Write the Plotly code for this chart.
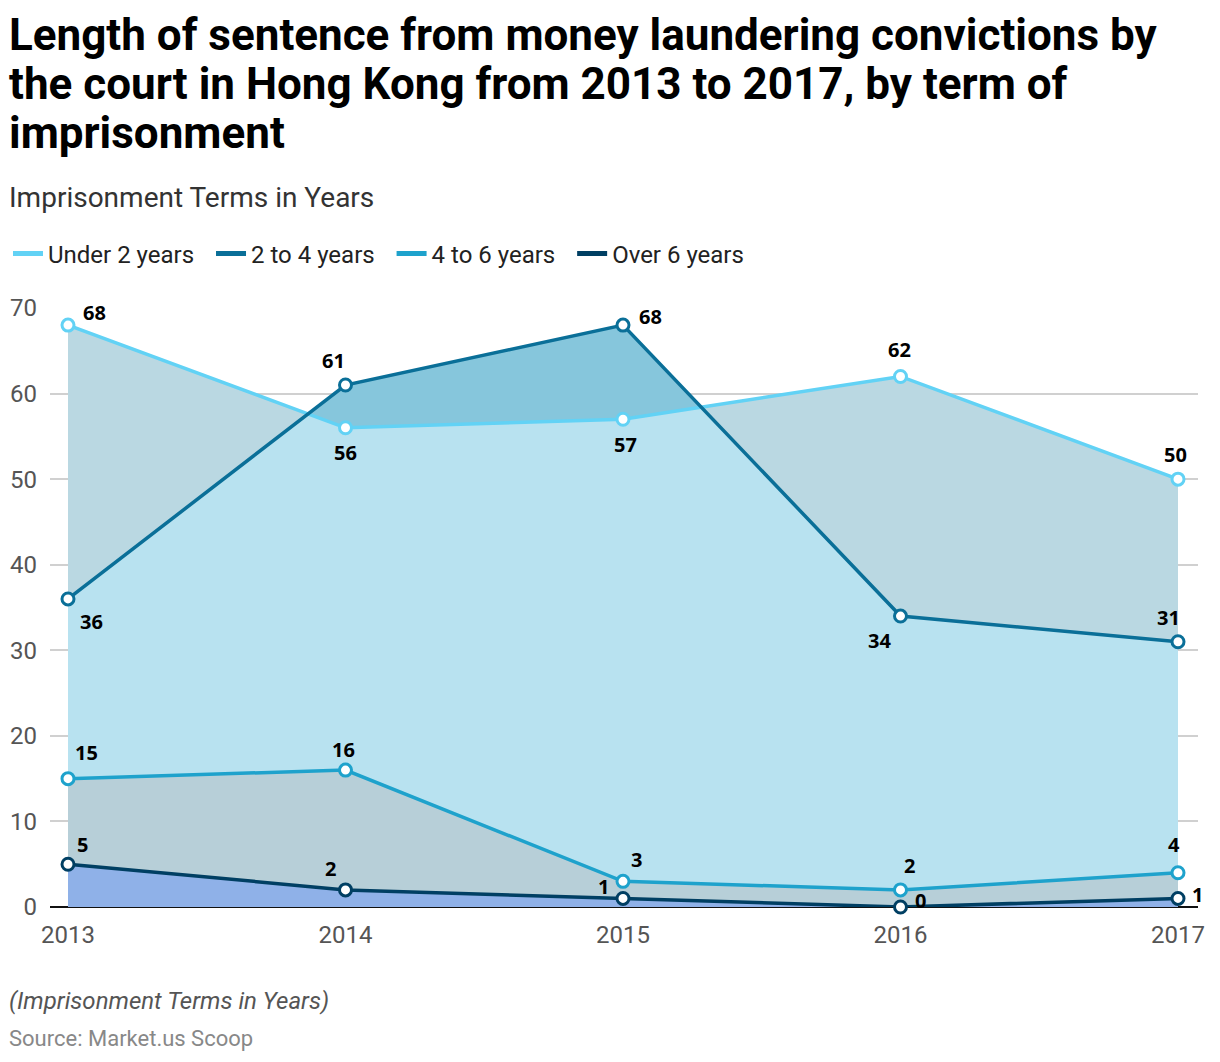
import plotly.graph_objects as go

years = [2013, 2014, 2015, 2016, 2017]
under2 = [68, 56, 57, 62, 50]
two_four = [36, 61, 68, 34, 31]
four_six = [15, 16, 3, 2, 4]
over6 = [5, 2, 1, 0, 1]

series_names = ["Under 2 years", "2 to 4 years", "4 to 6 years", "Over 6 years"]
line_colors = ["#62d2f5", "#0a6f98", "#1ea2cc", "#003f63"]
# label offsets in pixels (dx right, dy down) per series / point
label_dx = [[26, 0, 2, -1, -3], [23, -12, 27, -21, -10], [18, -2, 13, 9, -4], [14, -15, -20, 20, 19]]
label_dy = [[-13, 25, 25, -27, -25], [23, -25, -9, 24, -24], [-26, -21, -22, -24, -28], [-20, -21, -12, -7, -4]]
title_lines = ["Length of sentence from money laundering convictions by",
               "the court in Hong Kong from 2013 to 2017, by term of",
               "imprisonment"]

# merge crossing points of under2 / two_four (derived from data)
xm, um, tm = [], [], []
for i in range(len(years)):
    xm.append(years[i]); um.append(under2[i]); tm.append(two_four[i])
    if i < len(years) - 1:
        d0 = under2[i] - two_four[i]
        d1 = under2[i + 1] - two_four[i + 1]
        if d0 * d1 < 0:
            f = d0 / (d0 - d1)
            xm.append(years[i] + f)
            um.append(under2[i] + f * (under2[i + 1] - under2[i]))
            tm.append(two_four[i] + f * (two_four[i + 1] - two_four[i]))
mx = [max(a, b) for a, b in zip(um, tm)]
mn = [min(a, b) for a, b in zip(um, tm)]

fig = go.Figure()
nolinefill = dict(mode="lines", line=dict(width=0), hoverinfo="skip", showlegend=False)
fig.add_trace(go.Scatter(x=xm, y=um, fill="tozeroy", fillcolor="#bad8e2", **nolinefill))
fig.add_trace(go.Scatter(x=xm, y=mx, fill="tonexty", fillcolor="#86c6dc", **nolinefill))
fig.add_trace(go.Scatter(x=xm, y=mn, fill="tozeroy", fillcolor="#b8e2f0", **nolinefill))
fig.add_trace(go.Scatter(x=years, y=four_six, fill="tozeroy", fillcolor="#b7cfd8", **nolinefill))
fig.add_trace(go.Scatter(x=years, y=over6, fill="tozeroy", fillcolor="#8fb1e8", **nolinefill))

all_vals = [under2, two_four, four_six, over6]
for name, vals, col in zip(series_names, all_vals, line_colors):
    fig.add_trace(go.Scatter(
        x=years, y=vals, name=name, mode="lines+markers", showlegend=False,
        line=dict(color=col, width=3.5),
        marker=dict(size=12, color="white", line=dict(color=col, width=3)),
        cliponaxis=False,
    ))

# data labels
for vals, dxs, dys in zip(all_vals, label_dx, label_dy):
    for xv, yv, dx, dy in zip(years, vals, dxs, dys):
        fig.add_annotation(x=xv, y=yv, xref="x", yref="y", text="<b>%d</b>" % yv, showarrow=False,
                           xshift=dx, yshift=-dy, xanchor="center", yanchor="middle",
                           font=dict(family="Open Sans", size=20, color="#000000"))

# legend-only entries (line symbols)
for name, col in zip(series_names, line_colors):
    fig.add_trace(go.Scatter(x=[None], y=[None], name=name + "\u00a0\u00a0", mode="lines",
                             line=dict(color=col, width=5), showlegend=True))

W, H = 1212, 1054
fig.update_layout(
    width=W, height=H,
    margin=dict(l=42, r=22, t=300, b=155),
    paper_bgcolor="white", plot_bgcolor="white",
    font=dict(family="Roboto", color="#333333"),
    showlegend=True,
    legend=dict(orientation="h", xref="container", yref="container", x=-4 / W, y=1 - 246 / H,
                xanchor="left", yanchor="middle", font=dict(size=24, color="#222222"),
                traceorder="normal", itemwidth=30, tracegroupgap=0),
    xaxis=dict(range=[2013 - 18 / 277.5, 2017 + 20 / 277.5], tickvals=years,
               ticktext=[str(y) for y in years], showgrid=False, zeroline=False,
               tickfont=dict(size=24, color="#555555"), ticks="", showline=False,
               automargin=False, ticklabelstandoff=11),
    yaxis=dict(range=[0, 70], tickvals=[0, 10, 20, 30, 40, 50, 60, 70], showgrid=True,
               gridcolor="#d0d0d0", gridwidth=1.5, zeroline=True, zerolinecolor="#111111",
               zerolinewidth=2, tickfont=dict(size=24, color="#555555"), ticklabelstandoff=12,
               automargin=False),
)

def py(pix):
    return (907 - pix) / 599

for line, cy in zip(title_lines, [35, 84, 133]):
    fig.add_annotation(xref="paper", yref="paper", x=-43 / 1148, y=py(cy), xanchor="left", yanchor="middle",
                       text="<b>" + line + "</b>", showarrow=False, align="left",
                       font=dict(family="Roboto", size=44, color="#000000"))
fig.add_annotation(xref="paper", yref="paper", x=-43 / 1148, y=py(197), xanchor="left", yanchor="middle",
                   text="Imprisonment Terms in Years", showarrow=False, align="left",
                   font=dict(family="Roboto", size=28, color="#333333"))
fig.add_annotation(xref="paper", yref="paper", x=-43 / 1148, y=py(1001), xanchor="left", yanchor="middle",
                   text="<i>(Imprisonment Terms in Years)</i>", showarrow=False, align="left",
                   font=dict(family="Roboto", size=24, color="#555555"))
fig.add_annotation(xref="paper", yref="paper", x=-43 / 1148, y=py(1038), xanchor="left", yanchor="middle",
                   text="Source: Market.us Scoop", showarrow=False, align="left",
                   font=dict(family="Roboto", size=22, color="#888888"))

fig.write_html("out.html")
